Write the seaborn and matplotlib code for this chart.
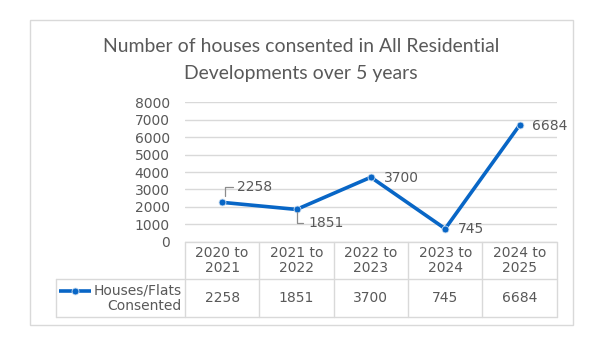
import matplotlib
matplotlib.use("Agg")
import matplotlib.pyplot as plt
from matplotlib.patches import Rectangle
from matplotlib.transforms import IdentityTransform
from matplotlib import font_manager
import seaborn as sns
import pandas as pd

# Data
periods = ["2020 to\n2021", "2021 to\n2022", "2022 to\n2023", "2023 to\n2024", "2024 to\n2025"]
consented = [2258, 1851, 3700, 745, 6684]
series_name = "Houses/Flats\nConsented"
title_lines = ["Number of houses consented in All Residential", "Developments over 5 years"]
y_ticks = [0, 1000, 2000, 3000, 4000, 5000, 6000, 7000, 8000]

W, H = 598, 337
BLUE = "#0866C6"
TEXT = "#595959"
GRID = "#D9D9D9"
FS = 10.0

sns.set_theme(style="white")
plt.rcParams["font.family"] = ["DejaVu Sans"]

names = {f.name for f in font_manager.fontManager.ttflist}
title_font = next((n for n in ["Liberation Sans Narrow", "Lato", "Roboto"] if n in names), "DejaVu Sans")

fig = plt.figure(figsize=(W / 100, H / 100), dpi=100)
fig.patch.set_facecolor("white")


def fbox(x0, y0, x1, y1):
    return [x0 / W, 1 - y1 / H, (x1 - x0) / W, (y1 - y0) / H]


# Outer chart border
fig.patches.append(Rectangle((29.5 / W, 1 - 325 / H), (573 - 29.5) / W, (325 - 20) / H,
                             transform=fig.transFigure, fill=False, edgecolor=GRID, lw=1))

# Two-line title, sized so the first line spans about 397 px
t1 = fig.text(301 / W, 1 - 47 / H, title_lines[0], ha="center", va="center", fontsize=16,
              color=TEXT, family=title_font)
t2 = fig.text(301 / W, 1 - 73 / H, title_lines[1], ha="center", va="center", fontsize=16,
              color=TEXT, family=title_font)
fig.canvas.draw()
w1 = t1.get_window_extent().width
scale = 397 / w1
for t in (t1, t2):
    t.set_fontsize(16 * scale)

# Plot area
px_left, px_right, px_top, px_bottom = 185, 556.7, 102.3, 241.7
ax = fig.add_axes(fbox(px_left, px_top, px_right, px_bottom))
df = pd.DataFrame({"pos": range(len(periods)), "value": consented})
sns.lineplot(data=df, x="pos", y="value", ax=ax, color=BLUE, lw=2.6,
             marker="o", markersize=5, markeredgecolor="#CFE0F2", markeredgewidth=0.6)
ax.set_xlim(-0.5, len(periods) - 0.5)
ax.set_ylim(0, 8000)
ax.set_yticks(y_ticks)
ax.set_xticks([])
ax.set_xlabel("")
ax.set_ylabel("")
for s in ax.spines.values():
    s.set_visible(False)
ax.grid(axis="y", color=GRID, lw=1)
ax.set_axisbelow(True)
ax.tick_params(axis="y", length=0, pad=11, labelsize=FS, labelcolor=TEXT)
ax.set_facecolor("none")

# Data labels (pixel offsets from each point) and leader lines
label_offsets = [(15, 15.5), (12, -14), (13, -1), (13, 0), (12, -0.5)]
leaders = {0: [(2.5, 6.5), (2.5, 15.5), (10.5, 15.5)],
           1: [(0, -2.5), (0, -14), (6.5, -14)]}
fig.canvas.draw()
for i, v in enumerate(consented):
    x, y = ax.transData.transform((i, v))
    dx, dy = label_offsets[i]
    fig.text(x + dx, y + dy, f"{v}", transform=IdentityTransform(), ha="left",
             va="center", fontsize=FS, color=TEXT)
    if i in leaders:
        pts = leaders[i]
        fig.lines.append(plt.Line2D([x + p[0] for p in pts], [y + p[1] for p in pts],
                                    transform=IdentityTransform(), color="#8C8C8C", lw=0.9))

# Data table under the plot area
cell_w = (px_right - px_left) / len(periods)
legend_left = 55.7
x_min = -0.5 - (px_left - legend_left) / cell_w
tab = fig.add_axes(fbox(legend_left, px_bottom, px_right, 317.2))
tab.set_xlim(x_min, len(periods) - 0.5)
tab.set_ylim(2, 0)
tab.axis("off")
lc = dict(color=GRID, lw=1, clip_on=False)
tab.plot([-0.5, len(periods) - 0.5], [0, 0], **lc)
tab.plot([x_min, len(periods) - 0.5], [1, 1], **lc)
tab.plot([x_min, len(periods) - 0.5], [2, 2], **lc)
for k in range(len(periods) + 1):
    tab.plot([k - 0.5, k - 0.5], [0, 2], **lc)
tab.plot([x_min, x_min], [1, 2], **lc)
for i, (p, v) in enumerate(zip(periods, consented)):
    tab.text(i, 0.5, p, ha="center", va="center", fontsize=FS, color=TEXT, linespacing=1.1)
    tab.text(i, 1.5, f"{v}", ha="center", va="center", fontsize=FS, color=TEXT)
tab.text(-0.5 - 3.3 / cell_w, 1.5, series_name, ha="right", va="center", fontsize=FS,
         color=TEXT, linespacing=1.1)

# Legend key inside the table
kx0 = x_min + 3.5 / cell_w
kx1 = x_min + 35.5 / cell_w
ky = 1 + (290.7 - 279.2) / 38
tab.plot([kx0, kx1], [ky, ky], color=BLUE, lw=2.6, solid_capstyle="butt", clip_on=False)
tab.plot([(kx0 + kx1) / 2], [ky], "o", color=BLUE, markersize=5,
         markeredgecolor="#CFE0F2", markeredgewidth=0.6, clip_on=False)

fig.savefig("out.png", dpi=100, facecolor="white")
